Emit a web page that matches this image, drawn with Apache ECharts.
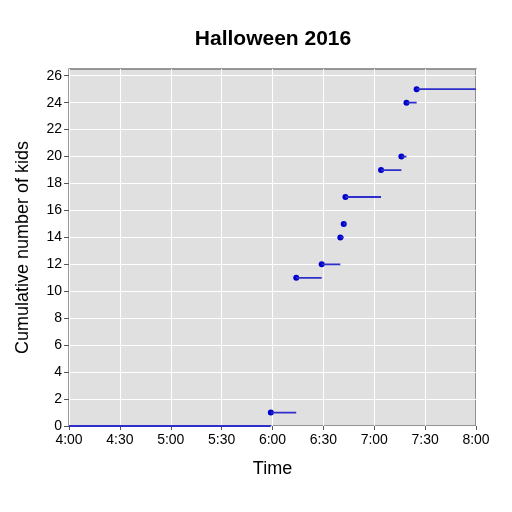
<!DOCTYPE html>
<html>
<head>
<meta charset="utf-8">
<script src="https://cdn.jsdelivr.net/npm/echarts@6/dist/echarts.min.js"></script>
<style>
  html, body { margin: 0; padding: 0; background: #fff; }
  #chart { width: 512px; height: 512px; }
</style>
</head>
<body>
<div id="chart"></div>
<script>
// arrival times of each group and the running total after it
const eventTimes = ["5:59", "6:14", "6:29", "6:40", "6:42", "6:43", "7:04", "7:16", "7:19", "7:25"];
const kidCounts = [1, 11, 12, 14, 15, 17, 19, 20, 24, 25];
const startTime = "4:00";
const endTime = "8:00";
const xTickLabels = ["4:00", "4:30", "5:00", "5:30", "6:00", "6:30", "7:00", "7:30", "8:00"];
const yTicks = [0, 2, 4, 6, 8, 10, 12, 14, 16, 18, 20, 22, 24, 26];

const toMin = (s) => {
  const [h, m] = s.split(":").map(Number);
  return (h - 4) * 60 + m;
};
const fmt = (v) => {
  const h = 4 + Math.floor(v / 60);
  const m = Math.round(v % 60);
  return h + ":" + String(m).padStart(2, "0");
};

// horizontal pieces of the step, broken between counts
const steps = [];
const xs = [startTime].concat(eventTimes).map(toMin);
const ys = [0].concat(kidCounts);
xs.forEach((x, i) => {
  const next = i + 1 < xs.length ? xs[i + 1] : toMin(endTime);
  steps.push([x, ys[i]], [next, ys[i]], "-");
});
const points = eventTimes.map((t, i) => [toMin(t), kidCounts[i]]);

const chart = echarts.init(document.getElementById("chart"));
const font = "Liberation Sans, Arial, sans-serif";

chart.setOption({
  animation: false,
  backgroundColor: "#ffffff",
  title: {
    text: "Halloween 2016",
    left: 268, top: 24, textAlign: "center",
    textStyle: { fontFamily: font, fontSize: 21, fontWeight: "bold", color: "#000" }
  },
  grid: {
    left: 69, right: 36, top: 69, bottom: 86,
    show: true, backgroundColor: "#e0e0e0",
    borderColor: "#7a7a7a", borderWidth: 1.5
  },
  xAxis: {
    type: "value",
    min: toMin(startTime), max: toMin(endTime), interval: 30,
    name: "Time", nameLocation: "middle", nameGap: 34,
    nameTextStyle: { fontFamily: font, fontSize: 18, color: "#000" },
    axisLine: { show: false },
    axisTick: { show: true, length: 4, lineStyle: { color: "#555" } },
    axisLabel: {
      fontFamily: font, fontSize: 14, color: "#000", margin: 7,
      formatter: (v) => xTickLabels[Math.round(v / 30)] || fmt(v)
    },
    splitLine: { show: true, lineStyle: { color: "#ffffff", width: 1 } }
  },
  yAxis: {
    type: "value",
    min: 0, max: 26.5,
    name: "Cumulative number of kids", nameLocation: "middle", nameGap: 37,
    nameTextStyle: { fontFamily: font, fontSize: 18, color: "#000" },
    axisLine: { show: false },
    axisTick: { show: true, length: 5, lineStyle: { color: "#555" }, customValues: yTicks },
    axisLabel: {
      fontFamily: font, fontSize: 14, color: "#000", margin: 7,
      customValues: yTicks
    },
    splitLine: { show: true, lineStyle: { color: "#ffffff", width: 1 } }
  },
  series: [
    {
      type: "line",
      data: steps,
      symbol: "none",
      connectNulls: false,
      lineStyle: { color: "#2e2ecc", width: 1.8 }
    },
    {
      type: "scatter",
      data: points,
      symbol: "circle",
      symbolSize: 6,
      itemStyle: { color: "#0000cc", opacity: 1 }
    }
  ]
});
</script>
</body>
</html>
